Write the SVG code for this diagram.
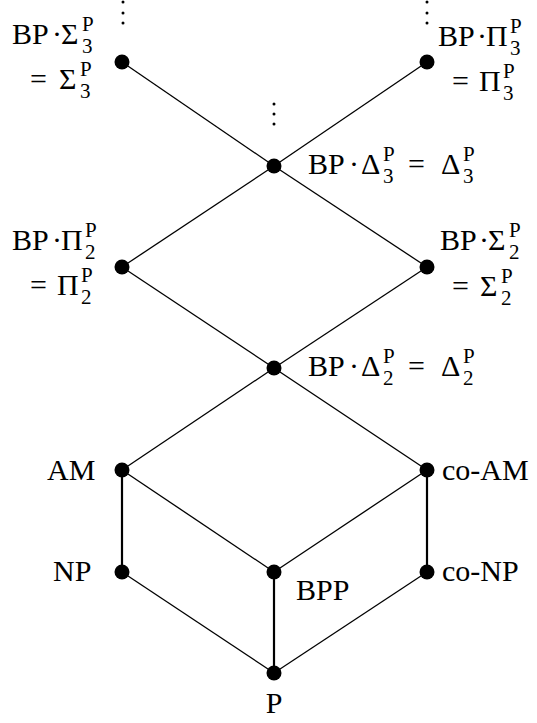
<svg xmlns="http://www.w3.org/2000/svg" width="537" height="723" viewBox="0 0 537 723">
  <style>
    .edge { stroke: #000; stroke-width: 1.3; fill: none; }
    .edge.thick { stroke-width: 2.2; }
    .dot { fill: #000; }
    .vdot { fill: #000; }
    .lbl { font-family: 'Liberation Serif', 'DejaVu Serif', serif; font-size: 30px; fill: #000; }
    .s { font-size: 21px; }
  </style>
  <rect width="537" height="723" fill="#fff"/>

  <!-- connectors -->
  <g id="edges">
    <line class="edge" x1="122" y1="62" x2="274" y2="166"/>
    <line class="edge" x1="427" y1="62" x2="274" y2="166"/>
    <line class="edge" x1="274" y1="166" x2="122" y2="267"/>
    <line class="edge" x1="274" y1="166" x2="427" y2="267"/>
    <line class="edge" x1="122" y1="267" x2="274" y2="368"/>
    <line class="edge" x1="427" y1="267" x2="274" y2="368"/>
    <line class="edge" x1="274" y1="368" x2="122" y2="470"/>
    <line class="edge" x1="274" y1="368" x2="427" y2="470"/>
    <line class="edge thick" x1="122" y1="470" x2="122" y2="572"/>
    <line class="edge" x1="122" y1="470" x2="274" y2="572"/>
    <line class="edge" x1="427" y1="470" x2="274" y2="572"/>
    <line class="edge thick" x1="427" y1="470" x2="427" y2="572"/>
    <line class="edge thick" x1="274" y1="572" x2="274" y2="673"/>
    <line class="edge" x1="122" y1="572" x2="274" y2="673"/>
    <line class="edge" x1="427" y1="572" x2="274" y2="673"/>
  </g>

  <!-- vertical ellipses continuing the hierarchy upward -->
  <g id="ellipses">
    <circle class="vdot" cx="123" cy="2" r="1.5"/>
    <circle class="vdot" cx="123" cy="13" r="1.5"/>
    <circle class="vdot" cx="123" cy="23" r="1.5"/>
    <circle class="vdot" cx="427" cy="2" r="1.5"/>
    <circle class="vdot" cx="427" cy="13" r="1.5"/>
    <circle class="vdot" cx="427" cy="23" r="1.5"/>
    <circle class="vdot" cx="274" cy="104" r="1.5"/>
    <circle class="vdot" cx="274" cy="114" r="1.5"/>
    <circle class="vdot" cx="274" cy="124" r="1.5"/>
  </g>

  <g id="sigma3">
    <circle class="dot" cx="122" cy="62" r="7.5"/>
    <text class="lbl"><tspan x="12" y="44">BP</tspan><tspan x="52" y="44">·</tspan><tspan x="61" y="44">Σ</tspan><tspan class="s" x="82" y="53">3</tspan><tspan class="s" x="82" y="31">P</tspan></text>
    <text class="lbl"><tspan x="30" y="89">=</tspan><tspan x="59" y="89">Σ</tspan><tspan class="s" x="80" y="98">3</tspan><tspan class="s" x="80" y="76">P</tspan></text>
  </g>

  <g id="pi3">
    <circle class="dot" cx="427" cy="62" r="7.5"/>
    <text class="lbl"><tspan x="438" y="46">BP</tspan><tspan x="477" y="46">·</tspan><tspan x="486" y="46">Π</tspan><tspan class="s" x="510" y="55">3</tspan><tspan class="s" x="510" y="33">P</tspan></text>
    <text class="lbl"><tspan x="452" y="91">=</tspan><tspan x="479" y="91">Π</tspan><tspan class="s" x="503" y="100">3</tspan><tspan class="s" x="503" y="78">P</tspan></text>
  </g>

  <g id="delta3">
    <circle class="dot" cx="274" cy="166" r="7.5"/>
    <text class="lbl"><tspan x="308" y="174">BP</tspan><tspan x="349" y="174">·</tspan><tspan x="361" y="174">Δ</tspan><tspan class="s" x="383" y="183">3</tspan><tspan class="s" x="383" y="161">P</tspan><tspan x="408" y="174">=</tspan><tspan x="441" y="174">Δ</tspan><tspan class="s" x="463" y="183">3</tspan><tspan class="s" x="463" y="161">P</tspan></text>
  </g>

  <g id="pi2">
    <circle class="dot" cx="122" cy="267" r="7.5"/>
    <text class="lbl"><tspan x="12" y="250">BP</tspan><tspan x="52" y="250">·</tspan><tspan x="61" y="250">Π</tspan><tspan class="s" x="85" y="259">2</tspan><tspan class="s" x="85" y="237">P</tspan></text>
    <text class="lbl"><tspan x="30" y="295">=</tspan><tspan x="57" y="295">Π</tspan><tspan class="s" x="81" y="304">2</tspan><tspan class="s" x="81" y="282">P</tspan></text>
  </g>

  <g id="sigma2">
    <circle class="dot" cx="427" cy="267" r="7.5"/>
    <text class="lbl"><tspan x="440" y="250">BP</tspan><tspan x="479" y="250">·</tspan><tspan x="488" y="250">Σ</tspan><tspan class="s" x="509" y="259">2</tspan><tspan class="s" x="509" y="237">P</tspan></text>
    <text class="lbl"><tspan x="452" y="296">=</tspan><tspan x="480" y="296">Σ</tspan><tspan class="s" x="501" y="305">2</tspan><tspan class="s" x="501" y="283">P</tspan></text>
  </g>

  <g id="delta2">
    <circle class="dot" cx="274" cy="368" r="7.5"/>
    <text class="lbl"><tspan x="308" y="376">BP</tspan><tspan x="349" y="376">·</tspan><tspan x="361" y="376">Δ</tspan><tspan class="s" x="383" y="385">2</tspan><tspan class="s" x="383" y="363">P</tspan><tspan x="408" y="376">=</tspan><tspan x="441" y="376">Δ</tspan><tspan class="s" x="463" y="385">2</tspan><tspan class="s" x="463" y="363">P</tspan></text>
  </g>

  <g id="am">
    <circle class="dot" cx="122" cy="470" r="7.5"/>
    <text class="lbl" x="47" y="480">AM</text>
  </g>

  <g id="coam">
    <circle class="dot" cx="427" cy="470" r="7.5"/>
    <text class="lbl" x="442" y="480">co-AM</text>
  </g>

  <g id="np">
    <circle class="dot" cx="122" cy="572" r="7.5"/>
    <text class="lbl" x="53" y="581">NP</text>
  </g>

  <g id="bpp">
    <circle class="dot" cx="274" cy="572" r="7.5"/>
    <text class="lbl" x="296" y="600">BPP</text>
  </g>

  <g id="conp">
    <circle class="dot" cx="427" cy="572" r="7.5"/>
    <text class="lbl" x="442" y="581">co-NP</text>
  </g>

  <g id="p">
    <circle class="dot" cx="274" cy="673" r="7.5"/>
    <text class="lbl" x="274" y="713" text-anchor="middle">P</text>
  </g>
</svg>
